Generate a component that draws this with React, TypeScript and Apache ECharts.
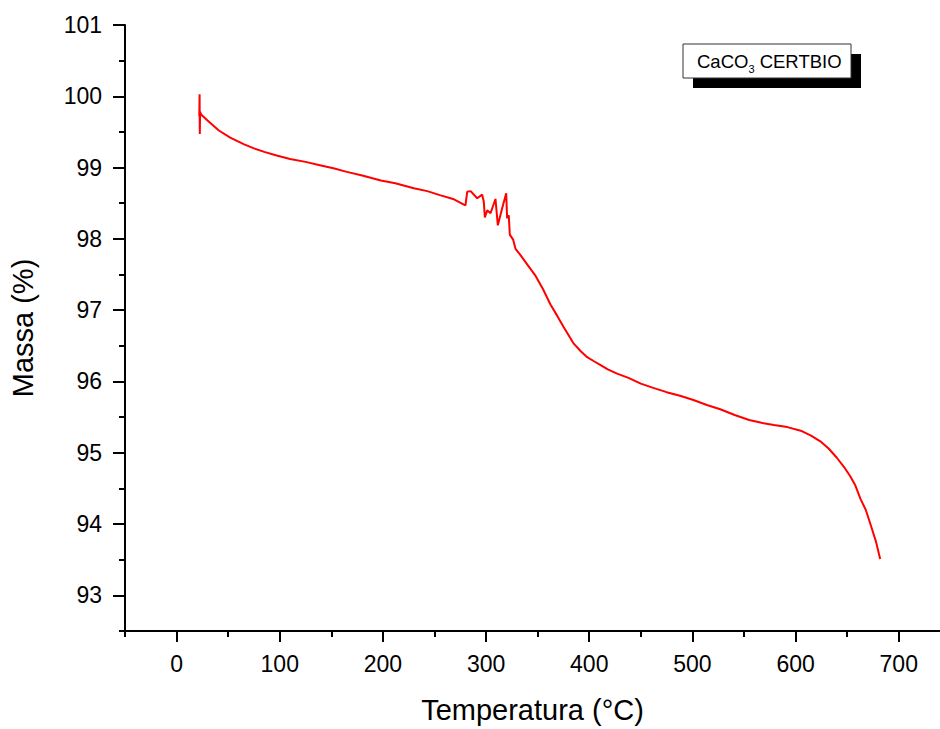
import React, { useEffect, useRef } from "react";
import * as echarts from "echarts";

const temps = [22.0, 22.3, 22.5, 22.8, 24, 30, 41, 52, 65, 75, 85, 97, 110, 125, 140, 152, 165, 180, 198, 212, 230, 243, 256, 268, 278.5, 280, 281.7, 285, 291.4, 296.2, 297.8, 298.8, 301.1, 304.3, 309.1, 311.4, 315.6, 319.5, 320.4, 322, 323, 326.2, 328.5, 333, 340, 348, 355, 362.4, 369, 375.3, 385, 392, 398, 405, 411, 418, 427, 438, 450, 462, 475, 488, 501, 514, 527, 541, 555, 567, 579, 592, 605, 615, 624, 632, 640, 647, 653, 658, 663, 668, 673, 678, 682];
const massa = [99.72, 100.03, 99.47, 99.78, 99.74, 99.66, 99.52, 99.42, 99.33, 99.27, 99.22, 99.17, 99.12, 99.08, 99.03, 98.99, 98.94, 98.89, 98.82, 98.78, 98.71, 98.67, 98.61, 98.56, 98.48, 98.47, 98.66, 98.67, 98.57, 98.62, 98.52, 98.30, 98.40, 98.36, 98.56, 98.19, 98.43, 98.64, 98.29, 98.33, 98.06, 97.99, 97.86, 97.78, 97.64, 97.48, 97.30, 97.08, 96.92, 96.76, 96.53, 96.42, 96.34, 96.28, 96.23, 96.17, 96.11, 96.05, 95.97, 95.91, 95.85, 95.80, 95.74, 95.67, 95.61, 95.53, 95.46, 95.42, 95.39, 95.36, 95.31, 95.24, 95.16, 95.06, 94.93, 94.80, 94.67, 94.54, 94.35, 94.20, 93.98, 93.75, 93.51];

const xTicks = [0, 100, 200, 300, 400, 500, 600, 700];
const xMinorTicks = [-50, 50, 150, 250, 350, 450, 550, 650];
const yTicks = [93, 94, 95, 96, 97, 98, 99, 100, 101];
const yMinorTicks = [92.5, 93.5, 94.5, 95.5, 96.5, 97.5, 98.5, 99.5, 100.5];

const FONT = "'Liberation Sans', Arial, sans-serif";

export default function App() {
  const ref = useRef<HTMLDivElement>(null);
  useEffect(() => {
    if (!ref.current) return;
    const chart = echarts.init(ref.current, null, { renderer: "svg" });
    const axisLine = { show: true, onZero: false, lineStyle: { color: "#000", width: 2 } };
    const hiddenLine = { show: false, onZero: false };
    const xRange = { min: -50, max: 740 };
    const yRange = { min: 92.5, max: 101 };
    chart.setOption({
      animation: false,
      backgroundColor: "#fff",
      grid: { left: 124, width: 816, top: 25, height: 611, containLabel: false },
      xAxis: [
        {
          type: "value",
          ...xRange,
          position: "bottom",
          axisLine,
          splitLine: { show: false },
          axisTick: { show: true, customValues: xTicks, length: 11, lineStyle: { color: "#000", width: 2 } },
          axisLabel: { customValues: xTicks, fontSize: 23, color: "#000", margin: 21, fontFamily: FONT },
          name: "Temperatura (°C)",
          nameLocation: "middle",
          nameGap: 64,
          nameTextStyle: { fontSize: 29, color: "#000", fontFamily: FONT },
        },
        {
          type: "value",
          ...xRange,
          position: "bottom",
          axisLine: hiddenLine,
          splitLine: { show: false },
          axisTick: { show: true, customValues: xMinorTicks, length: 6, lineStyle: { color: "#000", width: 2 } },
          axisLabel: { show: false },
        },
      ],
      yAxis: [
        {
          type: "value",
          ...yRange,
          position: "left",
          axisLine,
          splitLine: { show: false },
          axisTick: { show: true, customValues: yTicks, length: 12, lineStyle: { color: "#000", width: 2 } },
          axisLabel: { customValues: yTicks, fontSize: 23, color: "#000", margin: 23, fontFamily: FONT },
          name: "Massa (%)",
          nameLocation: "middle",
          nameGap: 88,
          nameTextStyle: { fontSize: 29, color: "#000", fontFamily: FONT },
        },
        {
          type: "value",
          ...yRange,
          position: "left",
          axisLine: hiddenLine,
          splitLine: { show: false },
          axisTick: { show: true, customValues: yMinorTicks, length: 6, lineStyle: { color: "#000", width: 2 } },
          axisLabel: { show: false },
        },
      ],
      series: [
        {
          type: "line",
          xAxisIndex: 0,
          yAxisIndex: 0,
          data: temps.map((t, i) => [t, massa[i]]),
          showSymbol: false,
          symbol: "none",
          lineStyle: { color: "#ff0000", width: 2 },
          silent: true,
        },
      ],
      graphic: [
        { type: "rect", shape: { x: 693, y: 54, width: 168, height: 34 }, style: { fill: "#000" } },
        { type: "rect", shape: { x: 683, y: 44, width: 168, height: 34 }, style: { fill: "#fff", stroke: "#333", lineWidth: 1 } },
        {
          type: "text",
          x: 697,
          y: 61,
          style: {
            text: "{a|CaCO}{s|3}{a| CERTBIO}",
            verticalAlign: "middle",
            rich: {
              a: { fontSize: 18.5, fontFamily: FONT, fill: "#000", lineHeight: 20 },
              s: { fontSize: 11, fontFamily: FONT, fill: "#000", padding: [16, 0, 0, 0], lineHeight: 20 },
            },
          },
        },
      ],
    });
    return () => chart.dispose();
  }, []);
  return <div ref={ref} style={{ position: "fixed", left: 0, top: 0, width: 940, height: 729 }} />;
}
